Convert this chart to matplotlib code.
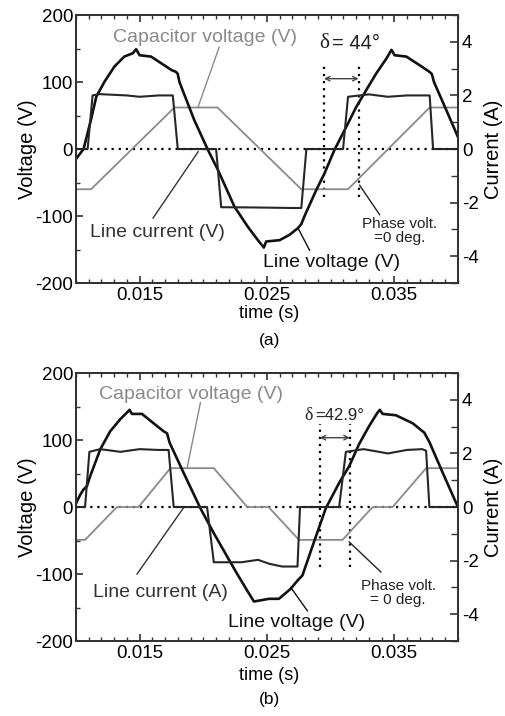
import matplotlib
matplotlib.use('Agg')
import matplotlib.pyplot as plt
from matplotlib.ticker import FixedLocator, MultipleLocator

plt.rcParams['font.family'] = ['Liberation Sans', 'DejaVu Sans']
plt.rcParams['axes.unicode_minus'] = False

# ---- panel (a) ----
t_line_v_a = [0.0100, 0.0106, 0.0112, 0.0116, 0.01223, 0.01302, 0.0138, 0.01447, 0.01473, 0.0150,
              0.0159, 0.0167, 0.0175, 0.01787, 0.0180, 0.01813, 0.0193, 0.02036, 0.02115, 0.02245,
              0.0235, 0.02429, 0.02476, 0.02494, 0.0260, 0.02678, 0.02744, 0.0277, 0.0280, 0.02888,
              0.02953, 0.03031, 0.03123, 0.03202, 0.0328, 0.03359, 0.03438, 0.03478, 0.03503, 0.03595,
              0.0370, 0.03778, 0.03795, 0.03812, 0.03909, 0.0400]
line_v_a = [-15, 0, 45, 78, 100, 123, 138, 143, 149, 140,
            138, 128, 118, 115, 112, 100, 43, -1, -31, -86,
            -116, -136, -147, -138, -136, -128, -118, -112, -98, -61,
            -36, -1, 33, 63, 88, 113, 135, 148, 140, 138,
            125, 115, 112, 100, 58, 18]

t_cur_a = [0.0100, 0.01092, 0.01131, 0.0118, 0.0140, 0.0150, 0.0165, 0.01761, 0.0180, 0.02101,
           0.02141, 0.0240, 0.0270, 0.0277, 0.0281, 0.03098, 0.03137, 0.0330, 0.0345, 0.0360,
           0.03778, 0.03805, 0.0400]
cur_a = [0, 0, 2.0, 2.05, 2.0, 1.95, 2.0, 2.0, 0, 0,
         -2.17, -2.18, -2.2, -2.2, 0, 0, 1.95, 2.04, 1.95, 2.0,
         2.0, 0, 0]

t_cap_a = [0.0100, 0.01119, 0.01774, 0.02112, 0.0277, 0.03137, 0.03778, 0.0400]
cap_a = [-60, -60, 62, 62, -60, -60, 62, 62]

delta_a = [0.02948, 0.0322]

# ---- panel (b) ----
t_line_v_b = [0.0100, 0.01033, 0.01059, 0.01086, 0.01112, 0.01191, 0.01269, 0.01348, 0.01406, 0.01421,
              0.0144, 0.01519, 0.0161, 0.01689, 0.01716, 0.01736, 0.01846, 0.01978, 0.02083, 0.02188,
              0.02267, 0.02346, 0.02385, 0.02398, 0.02516, 0.02594, 0.02687, 0.02739, 0.02779, 0.02857,
              0.02962, 0.03067, 0.03146, 0.03224, 0.03303, 0.03369, 0.03387, 0.03409, 0.03513, 0.03645,
              0.03736, 0.03776, 0.03881, 0.0400]
line_v_b = [5, 18, 26, 31, 46, 86, 113, 131, 142, 145,
            139, 139, 125, 113, 110, 96, 51, -2, -39, -74,
            -100, -125, -137, -141, -137, -137, -122, -110, -102, -59,
            -2, 36, 61, 94, 121, 141, 145, 139, 137, 125,
            111, 97, 51, 0]

t_cur_b = [0.0100, 0.01072, 0.01106, 0.0119, 0.0135, 0.0150, 0.0165, 0.01728, 0.01768, 0.0203,
           0.02083, 0.0230, 0.0243, 0.0252, 0.0262, 0.0274, 0.0276, 0.03067, 0.0312, 0.0326,
           0.0345, 0.0360, 0.0372, 0.0375, 0.03776, 0.0400]
cur_b = [0, 0, 2.06, 2.16, 2.06, 2.16, 2.13, 2.13, 0, 0,
         -2.06, -2.06, -1.97, -2.12, -2.22, -2.22, 0, 0, 2.06, 2.16,
         2.0, 2.13, 2.16, 2.1, 0, 0]

t_cap_b = [0.0100, 0.01072, 0.01322, 0.01492, 0.01742, 0.02083, 0.02346, 0.02513, 0.02752, 0.03094,
           0.0333, 0.03487, 0.0375, 0.0400]
cap_b = [-49, -49, 0, 0, 58, 58, 0, 0, -49, -49, 0, 0, 58, 58]

delta_b = [0.02915, 0.03151]

x_ticks = [0.015, 0.025, 0.035]
v_ticks = [-200, -100, 0, 100, 200]
i_ticks = [-4, -2, 0, 2, 4]

SPINE = '#333333'
GRAY = '#8a8a8a'
TXT = '#222222'


def draw_panel(fig, rect, tv, v, ti, cur, tc, cap, delta, dl_span, arrow_v,
               delta_txt, delta_pos, delta_size, cur_label, notes, panel_label, label_y):
    ax = fig.add_axes(rect)
    ax.set_xlim(0.01, 0.04)
    ax.set_ylim(-200, 200)
    ax2 = ax.twinx()
    ax2.set_ylim(-5, 5)

    # zero line and delta markers
    ax.plot([0.01, 0.04], [0, 0], color='black', lw=1.6, ls=(0, (1, 2.2)), zorder=1)
    for d in delta:
        ax.plot([d, d], dl_span, color='black', lw=1.6, ls=(0, (1, 2.2)), zorder=1)
    ax.annotate('', xy=(delta[0], arrow_v), xytext=(delta[1], arrow_v),
                arrowprops=dict(arrowstyle='<->', color='#444444', lw=1.0,
                                shrinkA=0, shrinkB=0, mutation_scale=8))

    ax.plot(tc, cap, color=GRAY, lw=1.3, zorder=2)
    ax2.plot(ti, cur, color='#262626', lw=1.5, zorder=3)
    ax.plot(tv, v, color='#111111', lw=1.9, zorder=4)

    ax.text(delta_pos[0], delta_pos[1], 'δ', family=['Liberation Serif', 'DejaVu Serif'],
            fontsize=delta_size + 1, ha='right', va='center', color=TXT)
    ax.text(delta_pos[0] + 0.0002, delta_pos[1], delta_txt, fontsize=delta_size,
            ha='left', va='center', color=TXT)

    # labels with pointer lines
    for txt, pos, p0, p1, col, fs in notes:
        ax.text(pos[0], pos[1], txt, fontsize=fs, ha='center', va='center', color=col,
                linespacing=1.0)
        ax.plot([p0[0], p1[0]], [p0[1], p1[1]], color=col, lw=1.0, zorder=5)

    for a in (ax, ax2):
        for s in a.spines.values():
            s.set_color(SPINE)
            s.set_linewidth(1.4)
    ax.xaxis.set_major_locator(FixedLocator(x_ticks))
    ax.xaxis.set_minor_locator(MultipleLocator(0.001))
    ax.set_xticklabels(['%.3f' % x for x in x_ticks])
    ax.yaxis.set_major_locator(FixedLocator(v_ticks))
    ax.yaxis.set_minor_locator(MultipleLocator(50))
    ax2.yaxis.set_major_locator(FixedLocator(i_ticks))
    ax2.yaxis.set_minor_locator(MultipleLocator(1))
    ax.tick_params(which='both', direction='in', top=True, right=False, colors=SPINE,
                   labelcolor='black', labelsize=13.5, pad=3)
    ax.tick_params(which='major', length=5, width=1.2)
    ax.tick_params(which='minor', length=3, width=1.0)
    ax.tick_params(axis='y', pad=2)
    ax2.tick_params(which='both', direction='in', colors=SPINE, labelcolor='black',
                    labelsize=13.5, pad=3)
    ax2.tick_params(which='major', length=6, width=1.2)
    ax2.tick_params(which='minor', length=5, width=1.0)

    l, b, w, h = rect
    fig.text(0.0553, b + h / 2, 'Voltage (V)', rotation=90, fontsize=14.5,
             ha='center', va='center')
    fig.text(0.975, b + h / 2, 'Current (A)', rotation=90, fontsize=14.5,
             ha='center', va='center')
    fig.text(l + w * 0.5 + 0.005, label_y[0], 'time (s)', fontsize=13, ha='center', va='center')
    fig.text(l + w * 0.5 + 0.005, label_y[1], panel_label, fontsize=12.5, ha='center', va='center')
    return ax


fig = plt.figure(figsize=(5.06, 7.16), dpi=100)

notes_a = [
    ('Capacitor voltage (V)', (0.0201, 167), (0.02125, 152), (0.01958, 62), GRAY, 14),
    ('Line current (V)', (0.0164, -125), (0.01606, -103), (0.0196, -4), '#333333', 14),
    ('Line voltage (V)', (0.0301, -170), (0.02835, -151), (0.02744, -118), '#111111', 14),
    ('Phase volt.\n=0 deg.', (0.0354, -122), (0.03385, -98), (0.03228, -54), '#222222', 11),
]
draw_panel(fig, [0.150, 0.6047, 0.755, 0.3743], t_line_v_a, line_v_a, t_cur_a, cur_a,
           t_cap_a, cap_a, delta_a, [-72, 130], 105, '= 44°', (0.0299, 158), 14.5,
           'Line current (V)', notes_a, '(a)', (0.5628, 0.525))

notes_b = [
    ('Capacitor voltage (V)', (0.0190, 168), (0.01978, 156), (0.01873, 58), GRAY, 14),
    ('Line current (A)', (0.0166, -127), (0.0148, -100), (0.01842, -2), '#333333', 14),
    ('Line voltage (V)', (0.0273, -172), (0.02818, -155), (0.02687, -120), '#111111', 14),
    ('Phase volt.\n= 0 deg.', (0.0353, -129), (0.03395, -97), (0.03146, -52), '#222222', 11),
]
draw_panel(fig, [0.150, 0.1047, 0.755, 0.3743], t_line_v_b, line_v_b, t_cur_b, cur_b,
           t_cap_b, cap_b, delta_b, [-90, 124], 103.5, '=42.9°', (0.0286, 137), 12,
           'Line current (A)', notes_b, '(b)', (0.0559, 0.0228))

fig.savefig('out.png', dpi=100)
